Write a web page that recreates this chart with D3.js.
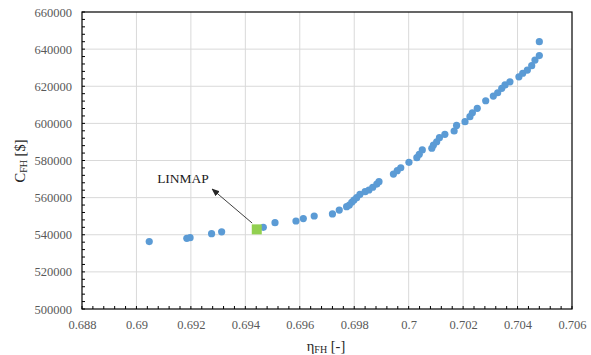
<!DOCTYPE html>
<html>
<head>
<meta charset="utf-8">
<script src="https://cdn.jsdelivr.net/npm/d3@7"></script>
<style>
  body { margin: 0; background: #fff; }
  svg text { font-family: "Liberation Serif", "Times New Roman", serif; }
</style>
</head>
<body>
<div id="chart"></div>
<script>
// Pareto front points (eta_FH, C_FH)
const etaFH = [0.69047, 0.69185, 0.69197, 0.69276, 0.69313, 0.69466, 0.69509, 0.69586, 0.69613, 0.69653,
  0.6972, 0.69745, 0.69772, 0.69782, 0.69791, 0.69799, 0.69809, 0.69821, 0.6984, 0.69854,
  0.69868, 0.69883, 0.69891, 0.69944, 0.69958, 0.69971, 0.70001, 0.7003, 0.70039, 0.7005,
  0.70085, 0.70091, 0.70103, 0.70113, 0.70133, 0.70167, 0.70176, 0.70207, 0.70225, 0.70234,
  0.70252, 0.70283, 0.70311, 0.70327, 0.70342, 0.70354, 0.70372, 0.70405, 0.70419, 0.70436,
  0.70452, 0.70464, 0.7048, 0.7048];
const costFH = [536300, 538100, 538400, 540600, 541600, 544000, 546500, 547400, 548700, 550100,
  551200, 553300, 555100, 556000, 557500, 558700, 560000, 561800, 563200, 564100,
  565600, 567300, 568600, 572700, 574500, 576100, 579000, 581500, 583300, 585700,
  586600, 588300, 590100, 592300, 594100, 595900, 598900, 600900, 603600, 605700,
  608100, 612200, 614700, 616500, 618900, 620700, 622400, 625100, 627000, 628700,
  631100, 634100, 636500, 644000];

// LINMAP selected point
const linmapEta = [0.69442];
const linmapCost = [542900];

const xTicks = [0.688, 0.69, 0.692, 0.694, 0.696, 0.698, 0.7, 0.702, 0.704, 0.706];
const yTicks = [500000, 520000, 540000, 560000, 580000, 600000, 620000, 640000, 660000];

// annotation: label and arrow (data coords)
const noteText = "LINMAP";
const notePos = [0.69076, 567900];
const arrowFrom = [0.69425, 546300];
const arrowTo = [0.69278, 564600];

const W = 591, H = 355;
const margin = {top: 12, right: 19, bottom: 46, left: 82};
const width = W - margin.left - margin.right,
      height = H - margin.top - margin.bottom;

const svg = d3.select("#chart").append("svg")
    .attr("width", W)
    .attr("height", H);

const defs = svg.append("defs");
defs.append("marker")
    .attr("id", "arrow")
    .attr("viewBox", "0 0 10 10")
    .attr("refX", 9).attr("refY", 5)
    .attr("markerWidth", 8).attr("markerHeight", 8)
    .attr("orient", "auto")
  .append("path")
    .attr("d", "M0,1 L10,5 L0,9 Z")
    .attr("fill", "#262626");

const g = svg.append("g")
    .attr("transform", "translate(" + margin.left + "," + margin.top + ")");

const x = d3.scaleLinear().domain([0.688, 0.706]).range([0, width]);
const y = d3.scaleLinear().domain([500000, 660000]).range([height, 0]);

// gridlines
g.append("g").selectAll("line").data(xTicks.slice(1, -1)).join("line")
    .attr("x1", d => x(d)).attr("x2", d => x(d))
    .attr("y1", 0).attr("y2", height)
    .attr("stroke", "#d9d9d9");
g.append("g").selectAll("line").data(yTicks.slice(1, -1)).join("line")
    .attr("y1", d => y(d)).attr("y2", d => y(d))
    .attr("x1", 0).attr("x2", width)
    .attr("stroke", "#d9d9d9");

// minor ticks (inside)
const xMinor = d3.range(0, 46).map(i => 0.688 + i * 0.0004);
const yMinor = d3.range(0, 41).map(i => 500000 + i * 4000);
g.append("g").selectAll("line").data(xMinor).join("line")
    .attr("x1", d => x(d)).attr("x2", d => x(d))
    .attr("y1", height).attr("y2", height - 3)
    .attr("stroke", "#000");
g.append("g").selectAll("line").data(yMinor).join("line")
    .attr("y1", d => y(d)).attr("y2", d => y(d))
    .attr("x1", 0).attr("x2", 3)
    .attr("stroke", "#000");

// frame
g.append("rect")
    .attr("x", 0).attr("y", 0)
    .attr("width", width).attr("height", height)
    .attr("fill", "none")
    .attr("stroke", "#000")
    .attr("stroke-width", 1.2);

// axes labels
const xAxis = g.append("g")
    .attr("transform", "translate(0," + height + ")")
    .call(d3.axisBottom(x).tickValues(xTicks).tickSize(0).tickPadding(11)
      .tickFormat(d => d3.format("")(+d.toFixed(3))));
const yAxis = g.append("g")
    .call(d3.axisLeft(y).tickValues(yTicks).tickSize(0).tickPadding(10)
      .tickFormat(d3.format("d")));
[xAxis, yAxis].forEach(a => {
  a.select(".domain").remove();
  a.selectAll("text").attr("font-size", 12.5).attr("fill", "#595959")
    .attr("font-family", "Liberation Serif");
});

// points
g.append("g").selectAll("circle").data(etaFH).join("circle")
    .attr("cx", d => x(d))
    .attr("cy", (d, i) => y(costFH[i]))
    .attr("r", 3.6)
    .attr("fill", "#5b9bd5");

g.append("g").selectAll("rect").data(linmapEta).join("rect")
    .attr("x", d => x(d) - 5)
    .attr("y", (d, i) => y(linmapCost[i]) - 5)
    .attr("width", 10).attr("height", 10)
    .attr("fill", "#92d050");

// annotation
g.append("line")
    .attr("x1", x(arrowFrom[0])).attr("y1", y(arrowFrom[1]))
    .attr("x2", x(arrowTo[0])).attr("y2", y(arrowTo[1]))
    .attr("stroke", "#404040")
    .attr("stroke-width", 1)
    .attr("marker-end", "url(#arrow)");
g.append("text")
    .attr("x", x(notePos[0])).attr("y", y(notePos[1]))
    .attr("font-size", 13.5)
    .attr("fill", "#1a1a1a")
    .text(noteText);

// axis titles
const xt = svg.append("text")
    .attr("x", margin.left + width / 2 - 1)
    .attr("y", 351)
    .attr("text-anchor", "middle")
    .attr("font-size", 14.5)
    .attr("fill", "#262626");
xt.append("tspan").text("η");
xt.append("tspan").attr("font-size", 10).attr("dy", 2).text("FH");
xt.append("tspan").attr("dy", -2).text(" [-]");

const yt = svg.append("text")
    .attr("transform", "translate(25,161) rotate(-90)")
    .attr("text-anchor", "middle")
    .attr("font-size", 14.5)
    .attr("fill", "#262626");
yt.append("tspan").text("C");
yt.append("tspan").attr("font-size", 10).attr("dy", 2).text("FH");
yt.append("tspan").attr("dy", -2).text(" [$]");
</script>
</body>
</html>
